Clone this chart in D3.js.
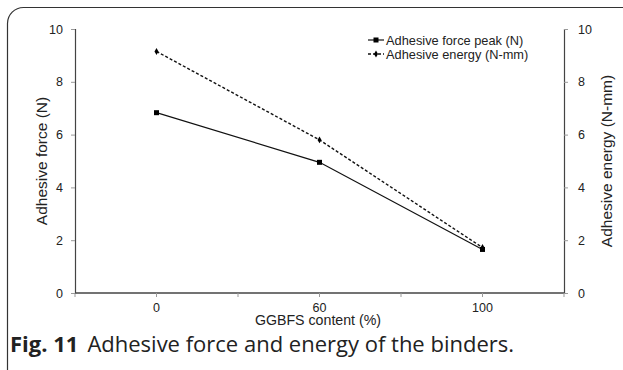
<!DOCTYPE html>
<html>
<head>
<meta charset="utf-8">
<script src="https://cdn.jsdelivr.net/npm/d3@7"></script>
<style>
  body { margin: 0; background: #fff; }
  svg { display: block; font-family: "Liberation Sans", Arial, sans-serif; }
</style>
</head>
<body>
<svg id="chart" width="623" height="370"></svg>
<script>
// chart data
var categories = ["0", "60", "100"];
var forcePeak = [6.83, 4.95, 1.65];
var energy = [9.15, 5.8, 1.72];
var yTicks = [0, 2, 4, 6, 8, 10];
var seriesNames = ["Adhesive force peak (N)", "Adhesive energy (N-mm)"];

function drawChart() {
  var svg = d3.select("#chart");

  // outer frame of the figure
  svg.append("rect")
    .attr("x", 7.5).attr("y", 7.5)
    .attr("width", 660).attr("height", 380)
    .attr("rx", 16)
    .attr("fill", "none")
    .attr("stroke", "#333")
    .attr("stroke-width", 1.2);

  var pLeft = 75, pRight = 564, pTop = 29, pBottom = 293;

  var x = d3.scaleBand().domain(categories).range([pLeft, pRight]).padding(0);
  var yL = d3.scaleLinear().domain([0, 10]).range([pBottom, pTop]);
  var yR = d3.scaleLinear().domain([0, 10]).range([pBottom, pTop]);

  // y axes
  var leftAxis = svg.append("g")
    .attr("transform", "translate(" + pLeft + ",0)")
    .call(d3.axisLeft(yL).tickValues(yTicks).tickSize(4).tickPadding(8));
  var rightAxis = svg.append("g")
    .attr("transform", "translate(" + pRight + ",0)")
    .call(d3.axisRight(yR).tickValues(yTicks).tickSize(4).tickPadding(10));

  // x axis: ticks at band edges and centres, labels at centres
  var xTickPos = [];
  categories.forEach(function(c) {
    xTickPos.push(x(c), x(c) + x.bandwidth() / 2);
  });
  xTickPos.push(pRight);

  var xAxis = svg.append("g");
  xAxis.append("line")
    .attr("x1", pLeft).attr("x2", pRight)
    .attr("y1", pBottom).attr("y2", pBottom)
    .attr("stroke", "#444").attr("stroke-width", 1.5);
  xAxis.selectAll(".xt")
    .data(xTickPos)
    .enter().append("line")
    .attr("x1", function(d) { return d; }).attr("x2", function(d) { return d; })
    .attr("y1", pBottom).attr("y2", pBottom + 4)
    .attr("stroke", "#999");
  xAxis.selectAll(".xl")
    .data(categories)
    .enter().append("text")
    .attr("x", function(d) { return x(d) + x.bandwidth() / 2; })
    .attr("y", 312)
    .attr("text-anchor", "middle")
    .attr("font-size", 12.5)
    .attr("fill", "#222")
    .text(function(d) { return d; });

  [leftAxis, rightAxis].forEach(function(g) {
    g.select(".domain").attr("stroke", "#444").attr("stroke-width", 1.2);
    g.selectAll(".tick line").attr("stroke", "#999");
    g.selectAll(".tick text").attr("font-size", 12.5).attr("fill", "#222")
      .style("font-family", "Liberation Sans, Arial, sans-serif");
  });

  // axis titles
  svg.append("text")
    .attr("transform", "translate(47," + ((pTop + pBottom) / 2) + ") rotate(-90)")
    .attr("text-anchor", "middle")
    .attr("font-size", 15.5).attr("fill", "#222")
    .text("Adhesive force (N)");
  svg.append("text")
    .attr("transform", "translate(612," + ((pTop + pBottom) / 2) + ") rotate(-90)")
    .attr("text-anchor", "middle")
    .attr("font-size", 15.5).attr("fill", "#222")
    .text("Adhesive energy (N-mm)");
  svg.append("text")
    .attr("x", 318).attr("y", 325)
    .attr("text-anchor", "middle")
    .attr("font-size", 14.2).attr("fill", "#222")
    .text("GGBFS content (%)");

  // series lines
  var cx = function(d, i) { return x(categories[i]) + x.bandwidth() / 2; };
  var line = d3.line().x(cx).y(function(d) { return yL(d); });
  var lineR = d3.line().x(cx).y(function(d) { return yR(d); });

  svg.append("path")
    .attr("d", line(forcePeak))
    .attr("fill", "none").attr("stroke", "#111").attr("stroke-width", 1.2);
  svg.append("path")
    .attr("d", lineR(energy))
    .attr("fill", "none").attr("stroke", "#111").attr("stroke-width", 1.4)
    .attr("stroke-dasharray", "3,2");

  svg.selectAll(".sq")
    .data(forcePeak)
    .enter().append("rect")
    .attr("x", function(d, i) { return cx(d, i) - 2.5; })
    .attr("y", function(d) { return yL(d) - 2.5; })
    .attr("width", 5).attr("height", 5)
    .attr("fill", "#000");
  svg.selectAll(".dm")
    .data(energy)
    .enter().append("path")
    .attr("d", d3.symbol().type(d3.symbolDiamond).size(14))
    .attr("transform", function(d, i) { return "translate(" + cx(d, i) + "," + yR(d) + ")"; })
    .attr("fill", "#000");

  // legend
  var lg = svg.append("g").attr("transform", "translate(368,0)");
  lg.append("line").attr("x1", 0).attr("x2", 16).attr("y1", 40).attr("y2", 40)
    .attr("stroke", "#111").attr("stroke-width", 1.2);
  lg.append("rect").attr("x", 5.5).attr("y", 37.5).attr("width", 5).attr("height", 5).attr("fill", "#000");
  lg.append("line").attr("x1", 0).attr("x2", 16).attr("y1", 54).attr("y2", 54)
    .attr("stroke", "#111").attr("stroke-width", 1.4).attr("stroke-dasharray", "3,2");
  lg.append("path").attr("d", d3.symbol().type(d3.symbolDiamond).size(14)())
    .attr("transform", "translate(8,54)").attr("fill", "#000");
  lg.selectAll(".lt")
    .data(seriesNames)
    .enter().append("text")
    .attr("x", 18)
    .attr("y", function(d, i) { return 44.5 + i * 14; })
    .attr("font-size", 12.8).attr("fill", "#222")
    .text(function(d) { return d; });

  // caption
  var cap = svg.append("text")
    .attr("x", 10).attr("y", 352)
    .attr("font-family", "Open Sans, Noto Sans, sans-serif")
    .attr("font-size", 22).attr("fill", "#222");
  cap.append("tspan").attr("font-weight", "bold").text("Fig. 11");
  cap.append("tspan").attr("dx", 9).text("Adhesive force and energy of the binders.");
}

drawChart();
</script>
</body>
</html>
